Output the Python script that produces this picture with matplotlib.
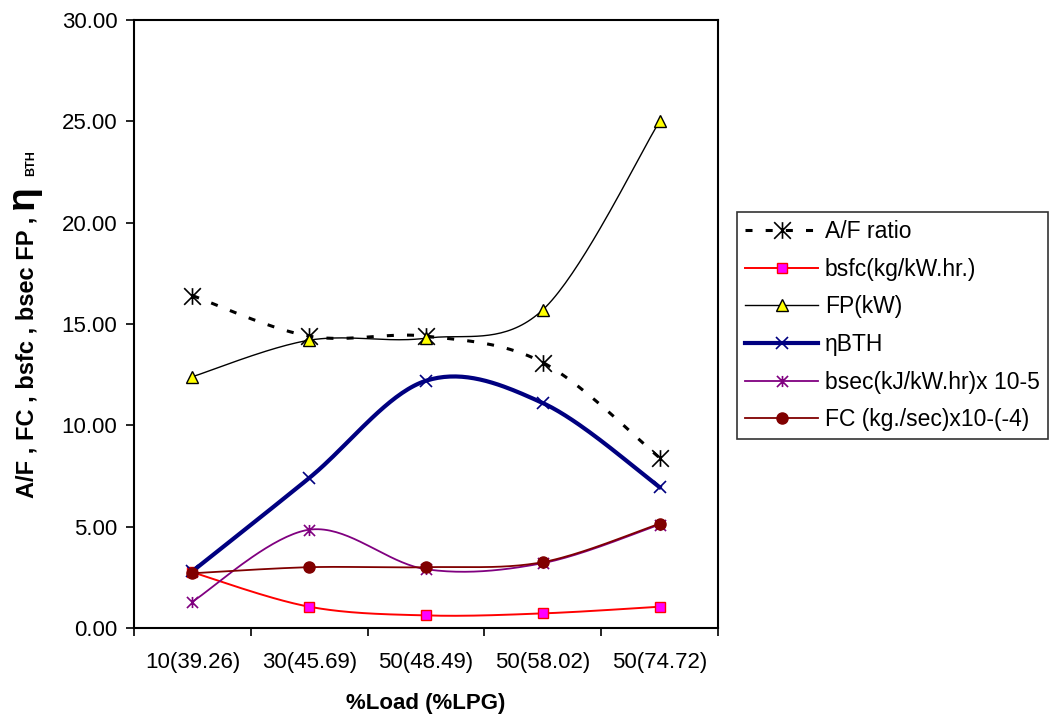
import numpy as np
import matplotlib
matplotlib.use('Agg')
import matplotlib.pyplot as plt
from matplotlib.path import Path

plt.rcParams['font.family'] = ['Liberation Sans', 'DejaVu Sans']

# load points (% load with % LPG in brackets)
x_labels = ['10(39.26)', '30(45.69)', '50(48.49)', '50(58.02)', '50(74.72)']

af_ratio = [16.4, 14.4, 14.4, 13.1, 8.4]
bsfc = [2.75, 1.05, 0.62, 0.72, 1.05]
fp = [12.4, 14.2, 14.3, 15.7, 25.0]
eta_bth = [2.8, 7.4, 12.2, 11.1, 6.95]
bsec = [1.3, 4.85, 2.9, 3.2, 5.1]
fc = [2.7, 3.0, 3.0, 3.25, 5.15]

y_ticks = [0, 5, 10, 15, 20, 25, 30]


def smooth(y, n=40):
    # spreadsheet style smoothing: bezier segments with catmull-rom control points
    y = np.asarray(y, dtype=float)
    x = np.arange(len(y), dtype=float)
    px = np.concatenate([[x[0]], x, [x[-1]]])
    py = np.concatenate([[y[0]], y, [y[-1]]])
    t = np.linspace(0, 1, n)[:, None]
    out = []
    for i in range(len(y) - 1):
        p0 = np.array([px[i], py[i]])
        p1 = np.array([px[i+1], py[i+1]])
        p2 = np.array([px[i+2], py[i+2]])
        p3 = np.array([px[i+3], py[i+3]])
        b1 = p1 + (p2 - p0)/6.0
        b2 = p2 - (p3 - p1)/6.0
        seg = (1-t)**3*p1 + 3*(1-t)**2*t*b1 + 3*(1-t)*t**2*b2 + t**3*p2
        out.append(seg if i == 0 else seg[1:])
    out = np.vstack(out)
    return out[:, 0], out[:, 1]


# star marker: X with a vertical bar
star = Path([(0, -1), (0, 1), (-1, -1), (1, 1), (-1, 1), (1, -1)],
            [Path.MOVETO, Path.LINETO, Path.MOVETO, Path.LINETO, Path.MOVETO, Path.LINETO])

fig = plt.figure(figsize=(10.51, 7.16), dpi=100)
ax = fig.add_axes([134/1051, 88/716, 584/1051, 608/716])

series = [
    (af_ratio, 'A/F ratio', dict(color='black', lw=2.2, ls=(0, (2.3, 4.3))),
     dict(marker=star, ms=12, mec='black', mfc='none', mew=1.2)),
    (bsfc, 'bsfc(kg/kW.hr.)', dict(color='#FF0000', lw=1.4, ls='-'),
     dict(marker='s', ms=7, mec='#FF0000', mfc='#FF00FF', mew=1.0)),
    (fp, 'FP(kW)', dict(color='black', lw=1.0, ls='-'),
     dict(marker='^', ms=9, mec='black', mfc='#FFFF00', mew=1.0)),
    (eta_bth, 'ηBTH', dict(color='#000080', lw=3.0, ls='-'),
     dict(marker='x', ms=9, mec='#000080', mfc='none', mew=1.2)),
    (bsec, 'bsec(kJ/kW.hr)x 10-5', dict(color='#800080', lw=1.3, ls='-'),
     dict(marker=star, ms=8, mec='#800080', mfc='none', mew=1.2)),
    (fc, 'FC (kg./sec)x10-(-4)', dict(color='#800000', lw=1.3, ls='-'),
     dict(marker='o', ms=8, mec='#800000', mfc='#800000', mew=1.0)),
]

idx = np.arange(len(x_labels))
handles = []
for vals, label, line_kw, mark_kw in series:
    sx, sy = smooth(vals)
    ax.plot(sx, sy, **line_kw)
    ax.plot(idx, vals, ls='none', **mark_kw)
    h, = ax.plot([], [], label=label, **line_kw, **mark_kw)
    handles.append(h)

ax.set_xlim(-0.5, len(x_labels) - 0.5)
ax.set_ylim(0, 30)
ax.set_yticks(y_ticks)
ax.set_yticklabels(['%.2f' % v for v in y_ticks])

# category ticks sit between the labels
ax.set_xticks(np.arange(-0.5, len(x_labels)))
ax.set_xticklabels([])
ax.set_xticks(idx, minor=True)
ax.set_xticklabels(x_labels, minor=True)
ax.tick_params(axis='x', which='major', direction='out', length=6, width=1.2)
ax.tick_params(axis='x', which='minor', length=0, pad=17, labelsize=16)
ax.tick_params(axis='y', direction='out', length=6, width=1.2, pad=6, labelsize=16)

for sp in ax.spines.values():
    sp.set_linewidth(1.5)
    sp.set_color('black')

ax.set_xlabel('%Load (%LPG)', fontsize=16, fontweight='bold', labelpad=15)

# y axis title in pieces so the eta can be larger than the rest
fig.text(27/1051, (716-498)/716, 'A/F , FC , bsfc , bsec FP ,', rotation=90,
         ha='center', va='bottom', fontsize=17, fontweight='bold')
fig.text(23/1051, (716-209)/716, 'η', rotation=90,
         ha='center', va='bottom', fontsize=28, fontweight='bold')
fig.text(31/1051, (716-176)/716, 'BTH', rotation=90,
         ha='center', va='bottom', fontsize=9, fontweight='bold')

leg = fig.legend(handles=handles, loc='upper left',
                 bbox_to_anchor=(737/1051, (716-212)/716),
                 fontsize=16.5, frameon=True, fancybox=False, shadow=False,
                 handlelength=3.2, handletextpad=0.28, labelspacing=0.64,
                 borderpad=0.35, borderaxespad=0)
leg.get_frame().set_edgecolor('black')
leg.get_frame().set_linewidth(1.2)

fig.savefig('out.png', dpi=100)
